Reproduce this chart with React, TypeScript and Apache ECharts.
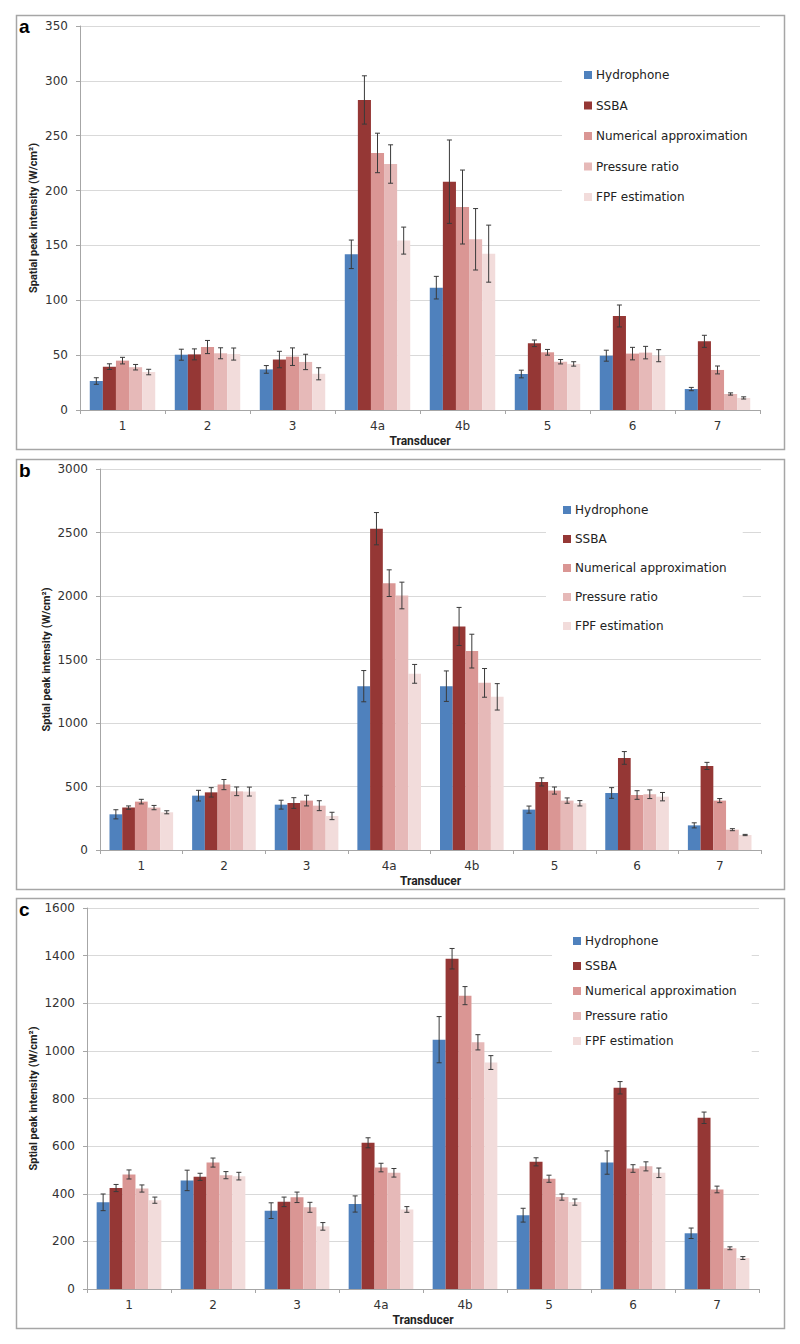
import React, { useEffect, useRef } from "react";
import * as echarts from "echarts";

const categories = ["1", "2", "3", "4a", "4b", "5", "6", "7"];
const seriesNames = ["Hydrophone", "SSBA", "Numerical approximation", "Pressure ratio", "FPF estimation"];
const seriesColors = ["#4F81BD", "#953735", "#DA9694", "#E6B9B8", "#F2DCDB"];

// Panel a
const aHydrophone = [26.4, 50.4, 37, 141.9, 111.5, 32.8, 49.5, 19.1];
const aHydrophoneErr = [3, 5, 3.5, 13, 10.3, 3.5, 5, 1.5];
const aSSBA = [39.5, 50.7, 46, 282.6, 208.1, 60.8, 85.7, 62.6];
const aSSBAErr = [2.6, 5, 7.5, 22, 38, 3, 10, 5.5];
const aNumerical = [45, 57.4, 48.6, 234.3, 185, 52.6, 51.4, 36.5];
const aNumericalErr = [3, 6, 8, 18, 33.7, 2.6, 5.7, 3.6];
const aPressure = [39, 51.7, 43.8, 224.2, 155.6, 44, 52.3, 14.6];
const aPressureErr = [2.5, 5, 7, 17.5, 28, 2, 5.7, 1];
const aFPF = [34.6, 51, 33, 154.4, 142.5, 42, 49.5, 11];
const aFPFErr = [2.5, 5.5, 5.5, 12.3, 26, 2, 5.5, 1];

// Panel b
const bHydrophone = [281, 428, 357, 1290, 1290, 318, 449, 194];
const bHydrophoneErr = [36, 42, 35, 123, 120, 28, 42, 20];
const bSSBA = [334, 454, 370, 2530, 1760, 536, 725, 662];
const bSSBAErr = [13, 37, 42, 127, 150, 32, 50, 28];
const bNumerical = [381, 515, 389, 2101, 1566, 468, 433, 389];
const bNumericalErr = [18, 40, 42, 105, 133, 28, 34, 16];
const bPressure = [334, 462, 349, 2004, 1316, 389, 439, 160];
const bPressureErr = [17, 34, 39, 105, 113, 21, 34, 8];
const bFPF = [297, 460, 268, 1387, 1206, 368, 420, 118];
const bFPFErr = [12, 35, 29, 74, 104, 21, 33, 5];

// Panel c
const cHydrophone = [364, 456, 329, 357, 1047, 310, 531, 234];
const cHydrophoneErr = [35, 43, 33, 34, 97, 29, 49, 22];
const cSSBA = [424, 471, 366, 614, 1387, 534, 845, 719];
const cSSBAErr = [15, 15, 20, 21, 43, 17, 26, 24];
const cNumerical = [481, 531, 385, 510, 1232, 463, 506, 418];
const cNumericalErr = [19, 19, 22, 18, 38, 15, 16, 14];
const cPressure = [422, 478, 343, 488, 1036, 386, 515, 171];
const cPressureErr = [15, 15, 21, 18, 32, 13, 19, 6];
const cFPF = [373, 474, 263, 334, 951, 365, 488, 130];
const cFPFErr = [13, 16, 16, 12, 29, 13, 20, 6];

const yTitles = ["Spatial peak intensity (W/cm²)", "Sptial peak intensity (W/cm²)", "Sptial peak intensity (W/cm²)"];
const xTitle = "Transducer";
const panelLetters = ["a", "b", "c"];
const yMax = [350, 3000, 1600];
const yInterval = [50, 500, 200];

const panelValues = [
  [aHydrophone, aSSBA, aNumerical, aPressure, aFPF],
  [bHydrophone, bSSBA, bNumerical, bPressure, bFPF],
  [cHydrophone, cSSBA, cNumerical, cPressure, cFPF],
];
const panelErrors = [
  [aHydrophoneErr, aSSBAErr, aNumericalErr, aPressureErr, aFPFErr],
  [bHydrophoneErr, bSSBAErr, bNumericalErr, bPressureErr, bFPFErr],
  [cHydrophoneErr, cSSBAErr, cNumericalErr, cPressureErr, cFPFErr],
];

// layout (pixels)
const layout = [
  { box: [16, 15, 768, 434], grid: { left: 80, right: 40, top: 26, height: 384 }, legend: { left: 562, top: 54, gap: 16.5, pad: [14, 14, 14, 22] }, nameGap: 41 },
  { box: [16, 459, 768, 430], grid: { left: 100, right: 39, top: 469, height: 381 }, legend: { left: 546, top: 489, gap: 15, pad: [14, 16, 14, 17] }, nameGap: 48 },
  { box: [16, 898, 768, 430], grid: { left: 87, right: 41, top: 908, height: 381 }, legend: { left: 552, top: 920, gap: 11, pad: [14, 15, 9, 21] }, nameGap: 48 },
];

const GAP = 0.23;
const tickFont = "DejaVu Sans";
const titleFont = "Roboto";

function errRenderer(idx: number) {
  return (params: any, api: any) => {
    const cat = api.value(0);
    const v = api.value(1);
    const e = api.value(2);
    const p = api.coord([cat, v]);
    const top = api.coord([cat, v + e])[1];
    const bot = api.coord([cat, v - e])[1];
    const band = api.size([1, 0])[0];
    const groupW = band * (1 - GAP);
    const bw = groupW / 5;
    const x = p[0] - groupW / 2 + bw * (idx + 0.5);
    const cap = 2.5;
    const style = { stroke: "#3a3a3a", lineWidth: 1 };
    return {
      type: "group",
      children: [
        { type: "line", shape: { x1: x, y1: top, x2: x, y2: bot }, style },
        { type: "line", shape: { x1: x - cap, y1: top, x2: x + cap, y2: top }, style },
        { type: "line", shape: { x1: x - cap, y1: bot, x2: x + cap, y2: bot }, style },
      ],
    };
  };
}

export default function App() {
  const ref = useRef<HTMLDivElement>(null);
  useEffect(() => {
    document.body.style.margin = "0";
    if (!ref.current) return;
    const chart = echarts.init(ref.current, null, { renderer: "svg" });
    const grids: any[] = [];
    const xAxes: any[] = [];
    const yAxes: any[] = [];
    const legends: any[] = [];
    const series: any[] = [];
    const graphics: any[] = [];
    for (let p = 0; p < 3; p++) {
      const L = layout[p];
      grids.push({ ...L.grid, containLabel: false });
      xAxes.push({
        type: "category",
        gridIndex: p,
        data: categories,
        boundaryGap: true,
        name: xTitle,
        nameLocation: "middle",
        nameGap: 25,
        nameMoveOverlap: false,
        nameTextStyle: { fontFamily: titleFont, fontWeight: "bold", fontSize: 12, color: "#222" },
        axisLine: { lineStyle: { color: "#A6A6A6", width: 1 } },
        axisTick: { show: true, length: 4, alignWithLabel: false, lineStyle: { color: "#A6A6A6" } },
        axisLabel: { fontFamily: tickFont, fontSize: 12, color: "#333", margin: 10 },
      });
      yAxes.push({
        type: "value",
        gridIndex: p,
        min: 0,
        max: yMax[p],
        interval: yInterval[p],
        name: yTitles[p],
        nameLocation: "middle",
        nameGap: L.nameGap,
        nameRotate: 90,
        nameMoveOverlap: false,
        nameTextStyle: { fontFamily: titleFont, fontWeight: "bold", fontSize: 11, color: "#222" },
        axisLine: { show: true, lineStyle: { color: "#A6A6A6", width: 1 } },
        axisTick: { show: true, length: 4, lineStyle: { color: "#A6A6A6" } },
        splitLine: { show: true, lineStyle: { color: "#D9D9D9", width: 1 } },
        axisLabel: { fontFamily: tickFont, fontSize: 12, color: "#333", margin: 12, formatter: (v: number) => String(v) },
      });
      legends.push({
        orient: "vertical",
        left: L.legend.left,
        top: L.legend.top,
        padding: L.legend.pad,
        backgroundColor: "#ffffff",
        itemWidth: 8,
        itemHeight: 8,
        itemGap: L.legend.gap,
        icon: "rect",
        selectedMode: false,
        data: seriesNames,
        textStyle: { fontFamily: tickFont, fontSize: 12, color: "#222", lineHeight: 14, padding: [0, 0, 0, -1] },
      });
      for (let s = 0; s < 5; s++) {
        series.push({
          type: "bar",
          name: seriesNames[s],
          xAxisIndex: p,
          yAxisIndex: p,
          data: panelValues[p][s],
          barGap: "0%",
          barCategoryGap: GAP * 100 + "%",
          itemStyle: { color: seriesColors[s] },
        });
      }
      for (let s = 0; s < 5; s++) {
        series.push({
          type: "custom",
          name: "err-" + p + "-" + s,
          xAxisIndex: p,
          yAxisIndex: p,
          renderItem: errRenderer(s),
          data: panelValues[p][s].map((v, i) => [i, v, panelErrors[p][s][i]]),
          z: 5,
          silent: true,
        });
      }
      graphics.push({
        type: "rect",
        shape: { x: L.box[0] + 0.5, y: L.box[1] + 0.5, width: L.box[2], height: L.box[3] },
        style: { fill: "transparent", stroke: "#A6A6A6", lineWidth: 1.5 },
        z: 0,
      });
      graphics.push({
        type: "text",
        x: L.box[0] + 3,
        y: L.box[1] + 2,
        style: { text: panelLetters[p], font: "bold 19px 'Liberation Sans', Arial", fill: "#000" },
        z: 10,
      });
    }
    chart.setOption({
      animation: false,
      backgroundColor: "#ffffff",
      grid: grids,
      xAxis: xAxes,
      yAxis: yAxes,
      legend: legends,
      series,
      graphic: graphics,
    });
    return () => chart.dispose();
  }, []);
  return <div ref={ref} style={{ width: 800, height: 1344 }} />;
}
